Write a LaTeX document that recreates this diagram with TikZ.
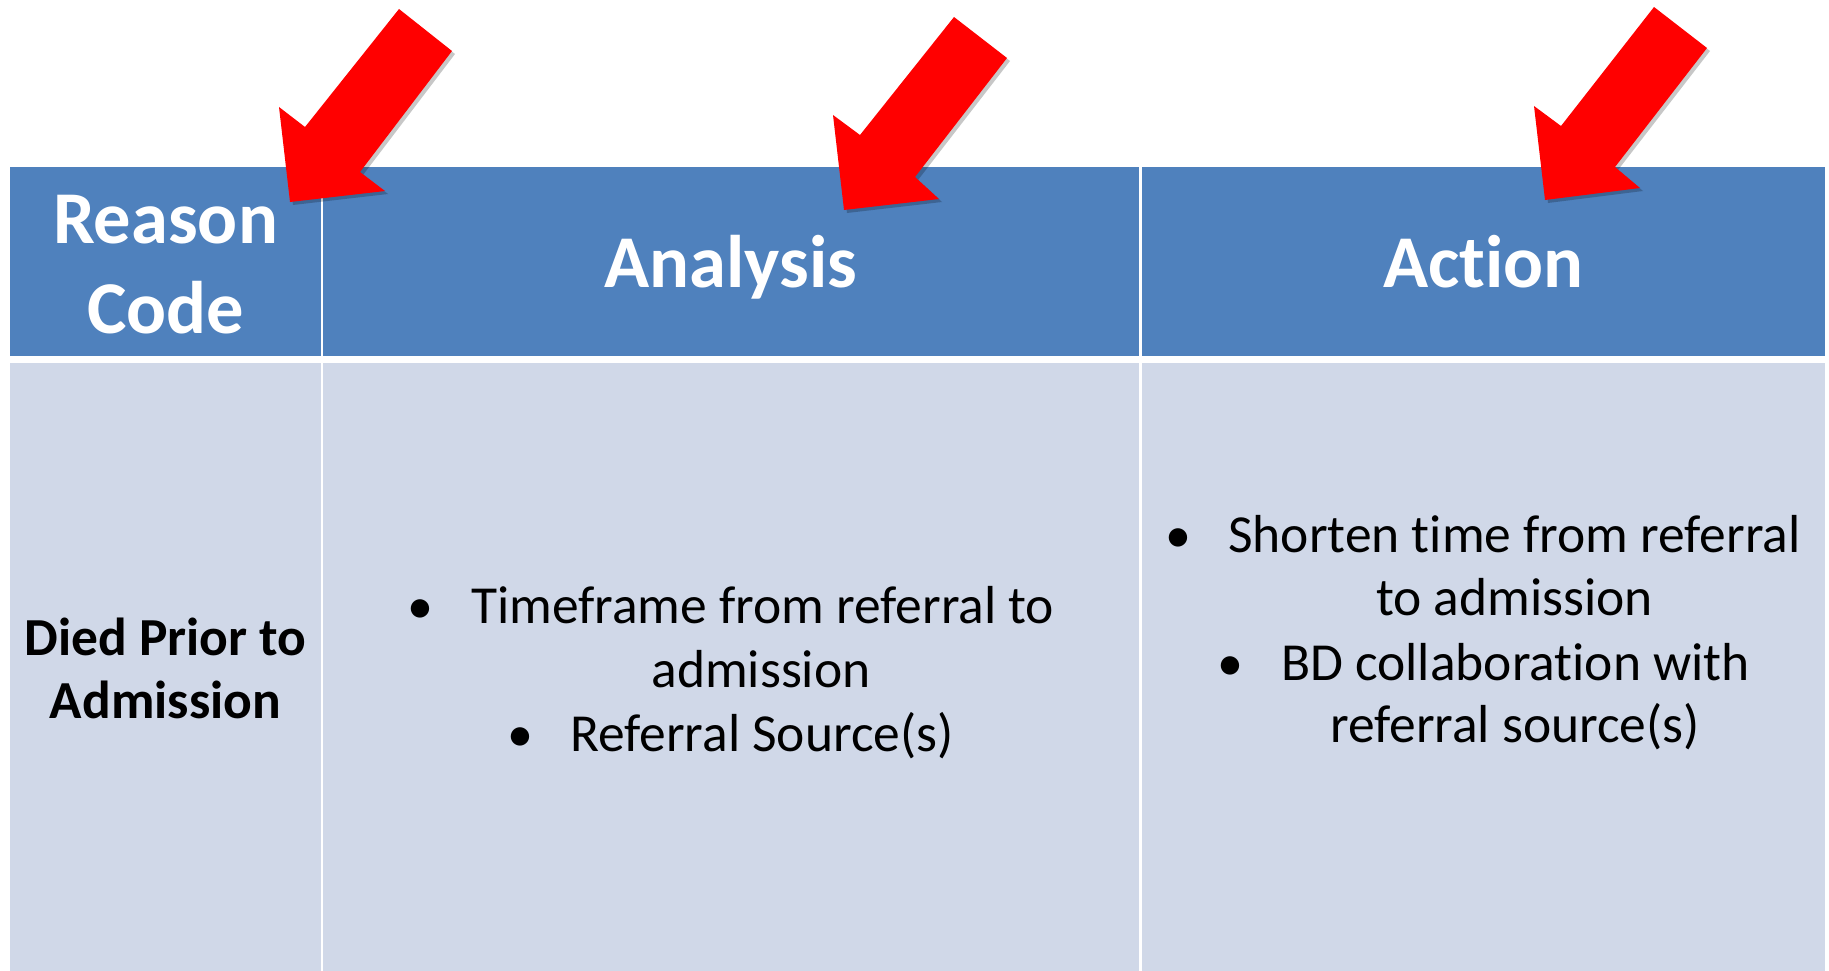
\documentclass[tikz,border=0pt]{standalone}
\usepackage{fontspec}
\setmainfont{Carlito}[RawFeature={-liga}]
\definecolor{hdrblue}{HTML}{4F81BD}
\definecolor{cellgrey}{HTML}{D0D8E8}
\definecolor{arrowred}{HTML}{FF0000}
\begin{document}
\begin{tikzpicture}[x=1pt,y=-1pt,
  hdrcell/.style={fill=hdrblue},
  bodycell/.style={fill=cellgrey},
  hdrtext/.style={inner sep=0pt, text=white, font=\fontsize{74.5}{90}\selectfont\bfseries, anchor=base},
  celltext/.style={inner sep=0pt, text=black, font=\fontsize{53.5}{64}\selectfont, anchor=base west},
  centertext/.style={inner sep=0pt, text=black, font=\fontsize{53.5}{64}\selectfont, anchor=base},
  boldtext/.style={inner sep=0pt, text=black, font=\fontsize{53.5}{64}\selectfont\bfseries, anchor=base},
  bulletmark/.style={inner sep=0pt, text=black, font=\fontsize{52}{63}\selectfont, anchor=base},
  redarrow/.style={fill=arrowred},
  arrowshadow/.style={fill=black, opacity=0.22}
]
\useasboundingbox (0,0) rectangle (1829,971);
\fill[white] (0,0) rectangle (1829,971);

% header cells
\fill[hdrcell] (10,167) rectangle (321,356);
\fill[hdrcell] (323,167) rectangle (1139,356);
\fill[hdrcell] (1142,167) rectangle (1825,356);
% body cells
\fill[bodycell] (10,363) rectangle (321,971);
\fill[bodycell] (323,363) rectangle (1139,971);
\fill[bodycell] (1142,363) rectangle (1825,971);

% header texts
\node[hdrtext] (reason) at (165.5,243) {Reason};
\node[hdrtext] (code) at (165.5,333) {Code};
\node[hdrtext] (analysis) at (731,287) {Analysis};
\node[hdrtext] (action) at (1483.5,287) {Action};

% column 1 body
\node[boldtext] (died) at (165.5,655) {Died Prior to};
\node[boldtext] (admis) at (165.5,718) {Admission};

% analysis column
\node[bulletmark] (b1) at (420,623) {\textbullet};
\node[celltext] (an1) at (471,623) {Timeframe from referral to};
\node[centertext] (an2) at (761,687) {admission};
\node[bulletmark] (b2) at (520,751) {\textbullet};
\node[celltext] (an3) at (570,751) {Referral Source(s)};

% action column
\node[bulletmark] (b3) at (1178.5,552) {\textbullet};
\node[celltext] (ac1) at (1228,552) {Shorten time from referral};
\node[celltext] (ac2) at (1376,615) {to admission};
\node[bulletmark] (b4) at (1230,680) {\textbullet};
\node[celltext] (ac3) at (1281,680) {BD collaboration with};
\node[celltext] (ac4) at (1330,742) {referral source(s)};

% red arrows with soft shadows
\begin{scope}[shift={(3,3)}]
\fill[arrowshadow] (399,9) -- (452,51) -- (360,172) -- (385,191) -- (290,202) -- (279,107) -- (305,127) -- cycle;
\fill[arrowshadow] (954,17) -- (1007,58) -- (915,177) -- (939,199) -- (844,210) -- (833,115) -- (860,135) -- cycle;
\fill[arrowshadow] (1654,7) -- (1707,48) -- (1615,167) -- (1640,188) -- (1545,200) -- (1534,106) -- (1561,126) -- cycle;
\end{scope}
\fill[redarrow] (399,9) -- (452,51) -- (360,172) -- (385,191) -- (290,202) -- (279,107) -- (305,127) -- cycle;
\fill[redarrow] (954,17) -- (1007,58) -- (915,177) -- (939,199) -- (844,210) -- (833,115) -- (860,135) -- cycle;
\fill[redarrow] (1654,7) -- (1707,48) -- (1615,167) -- (1640,188) -- (1545,200) -- (1534,106) -- (1561,126) -- cycle;
\end{tikzpicture}
\end{document}
